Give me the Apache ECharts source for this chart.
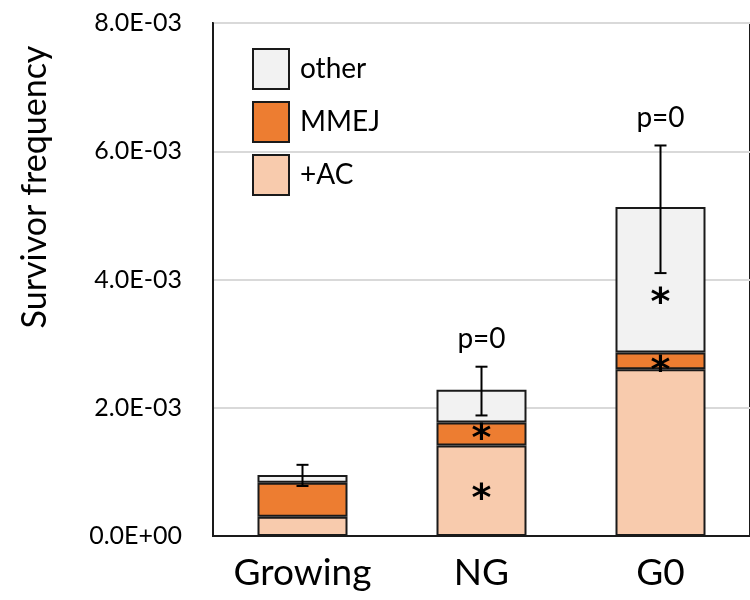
<!DOCTYPE html>
<html>
<head>
<meta charset="utf-8">
<script src="https://cdn.jsdelivr.net/npm/echarts@6/dist/echarts.min.js"></script>
<style>
  html, body { margin: 0; padding: 0; background: #fff; }
  #main { width: 750px; height: 600px; }
</style>
</head>
<body>
<div id="main"></div>
<script>
// data
let categories = ['Growing', 'NG', 'G0'];
let acValues = [0.30e-3, 1.41e-3, 2.60e-3];
let mmejValues = [0.53e-3, 0.36e-3, 0.26e-3];
let otherValues = [0.12e-3, 0.51e-3, 2.27e-3];
let errLow = [0.78e-3, 1.88e-3, 4.10e-3];
let errHigh = [1.11e-3, 2.64e-3, 6.09e-3];
let pLabels = ['', 'p=0', 'p=0'];
// which segments get a star
let acStars = [false, true, false];
let mmejStars = [false, true, true];
let otherStars = [false, false, true];

let fontName = 'Lato';

let fmtSci = function(v) {
    if (v === 0) return '0.0E+00';
    let s = v.toExponential(1).toUpperCase();
    let parts = s.split('E');
    let exp = parseInt(parts[1], 10);
    let sign = exp < 0 ? '-' : '+';
    let abs = Math.abs(exp);
    return parts[0] + 'E' + sign + (abs < 10 ? '0' + abs : abs);
};

let starData = function(values, stars, offset) {
    return values.map(function(v, i) {
        let item = { value: v };
        if (stars[i]) {
            item.label = {
                show: true,
                position: 'inside',
                formatter: '*',
                fontSize: 38,
                fontWeight: 'bold',
                color: '#000',
                fontFamily: 'DejaVu Sans',
                offset: [0, offset[i]]
            };
        }
        return item;
    });
};

let main = document.getElementById('main');
let myChart = echarts.init(main);

let barStyle = function(color) {
    return { color: color, borderColor: '#1a1a1a', borderWidth: 2 };
};

let options = {
    animation: false,
    grid: {
        left: 213,
        top: 23,
        bottom: 64,
        right: -9,
        show: true,
        borderColor: '#1a1a1a',
        borderWidth: 2
    },
    legend: {
        orient: 'vertical',
        left: 247,
        top: 43,
        icon: 'rect',
        itemWidth: 36,
        itemHeight: 40,
        itemGap: 11,
        data: ['other', 'MMEJ', '+AC'],
        textStyle: { fontSize: 28, fontFamily: fontName, color: '#000', padding: [0, 0, 0, 6] }
    },
    graphic: [{
        type: 'text',
        x: 35,
        y: 187,
        rotation: Math.PI / 2,
        style: {
            text: 'Survivor frequency',
            fontSize: 34,
            fontFamily: fontName,
            fill: '#000',
            align: 'center',
            verticalAlign: 'middle'
        }
    }],
    xAxis: {
        type: 'category',
        data: categories,
        axisLine: { lineStyle: { color: '#1a1a1a', width: 2 } },
        axisTick: { show: false },
        axisLabel: {
            fontSize: 37,
            fontFamily: fontName,
            color: '#000',
            margin: 19,
            interval: 0,
            hideOverlap: false
        }
    },
    yAxis: {
        type: 'value',
        min: 0,
        max: 8e-3,
        interval: 2e-3,
        axisLine: { show: true, lineStyle: { color: '#1a1a1a', width: 2 } },
        axisTick: { show: false },
        splitLine: { lineStyle: { color: '#d9d9d9', width: 2 } },
        axisLabel: {
            fontSize: 25,
            fontFamily: fontName,
            color: '#000',
            margin: 31,
            formatter: fmtSci
        }
    },
    series: [
        {
            name: '+AC',
            type: 'bar',
            stack: 'all',
            barWidth: 90,
            itemStyle: barStyle('#f8cbad'),
            data: starData(acValues, acStars, [0, 9, 0])
        },
        {
            name: 'MMEJ',
            type: 'bar',
            stack: 'all',
            barWidth: 90,
            itemStyle: barStyle('#ed7d31'),
            data: starData(mmejValues, mmejStars, [0, 6, 11])
        },
        {
            name: 'other',
            type: 'bar',
            stack: 'all',
            barWidth: 90,
            itemStyle: barStyle('#f2f2f2'),
            data: starData(otherValues, otherStars, [0, 0, 24])
        },
        {
            name: 'error',
            type: 'custom',
            data: categories.map(function(c, i) { return [i, errLow[i], errHigh[i], pLabels[i]]; }),
            encode: { x: 0, y: [1, 2] },
            z: 10,
            renderItem: function(params, api) {
                let lo = api.coord([api.value(0), api.value(1)]);
                let hi = api.coord([api.value(0), api.value(2)]);
                let cap = 6;
                let lineStyle = { stroke: '#000', lineWidth: 2 };
                let children = [
                    { type: 'line', shape: { x1: hi[0], y1: hi[1], x2: lo[0], y2: lo[1] }, style: lineStyle },
                    { type: 'line', shape: { x1: hi[0] - cap, y1: hi[1], x2: hi[0] + cap, y2: hi[1] }, style: lineStyle },
                    { type: 'line', shape: { x1: lo[0] - cap, y1: lo[1], x2: lo[0] + cap, y2: lo[1] }, style: lineStyle }
                ];
                let label = pLabels[params.dataIndex];
                if (label) {
                    children.push({
                        type: 'text',
                        x: hi[0],
                        y: hi[1] - 14,
                        style: {
                            text: label,
                            fontSize: 28,
                            fontFamily: fontName,
                            fill: '#000',
                            align: 'center',
                            verticalAlign: 'bottom'
                        }
                    });
                }
                return { type: 'group', children: children };
            }
        }
    ]
};

myChart.setOption(options);
</script>
</body>
</html>
